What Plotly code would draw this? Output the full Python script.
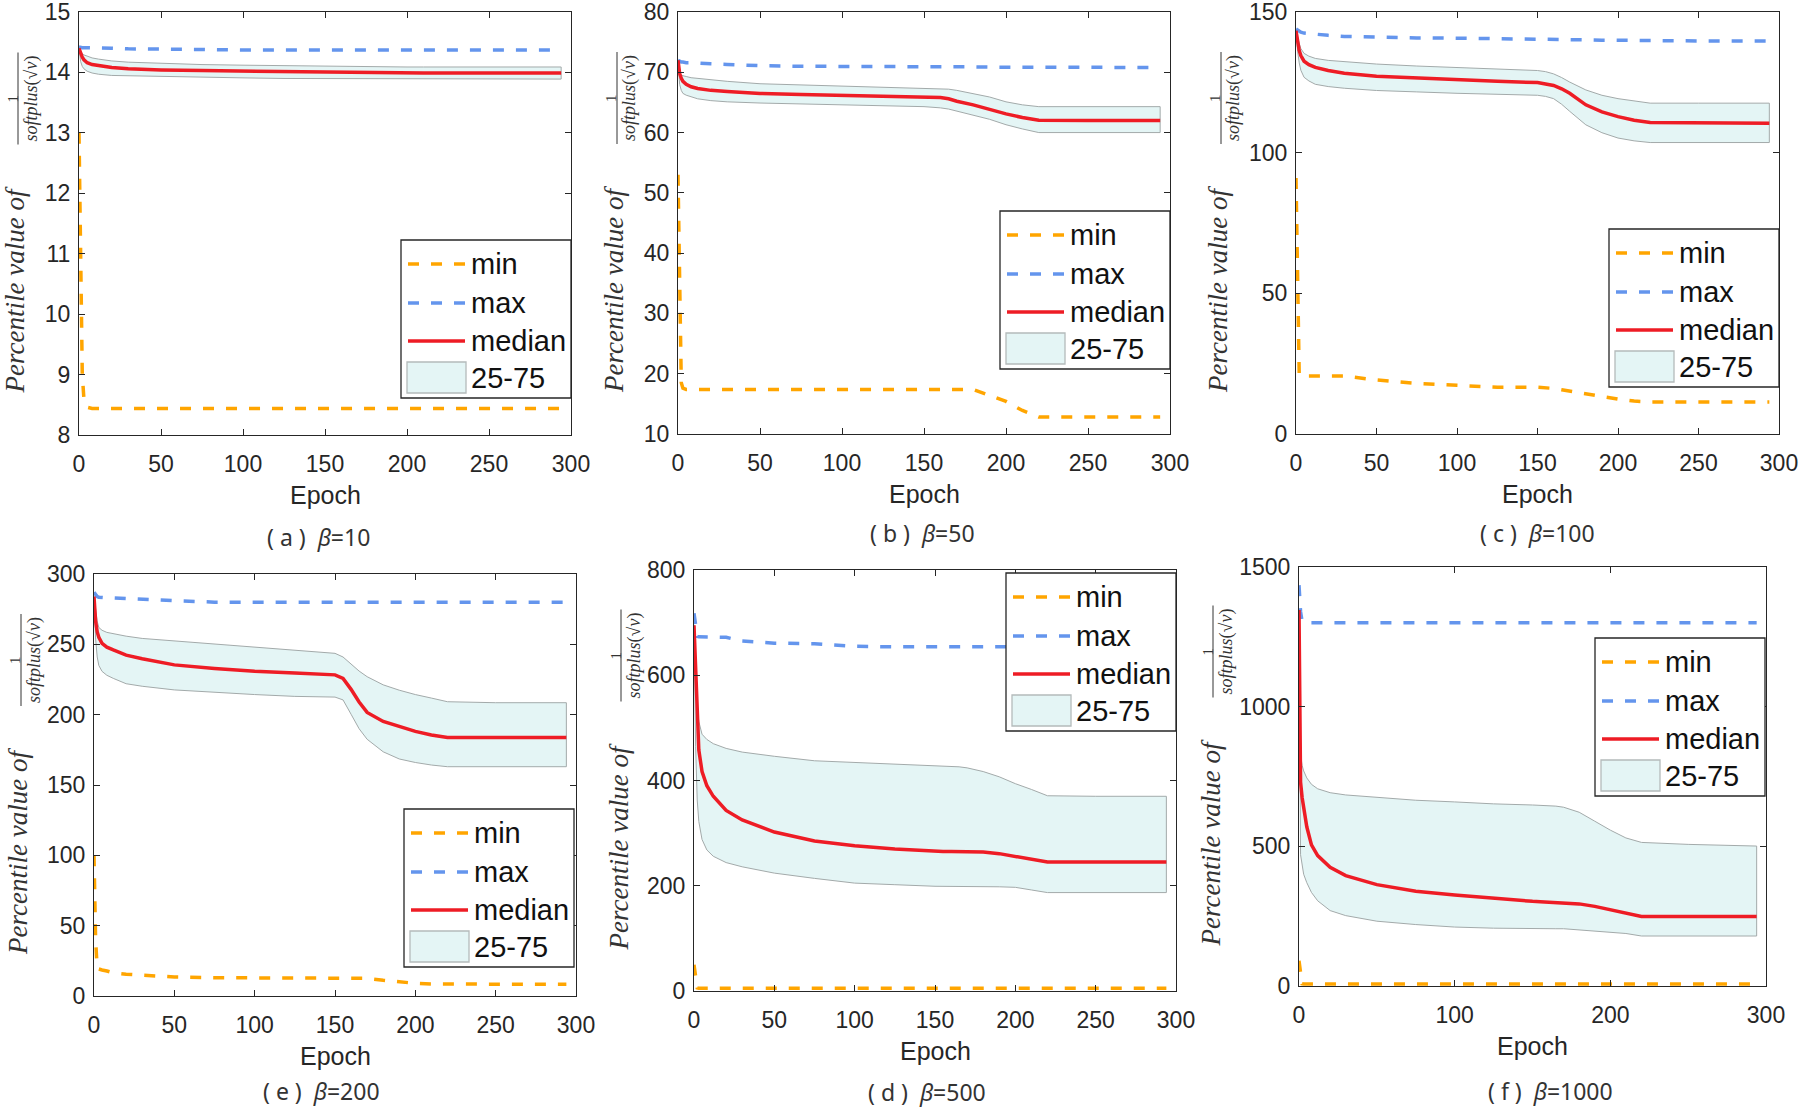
import plotly.graph_objects as go

W, H = 1800, 1109

EPOCHS = [0, 1, 2, 3, 5, 8, 12, 20, 30, 50, 75, 100, 125, 150, 155, 160, 165, 170, 180, 190, 200, 210, 220, 250, 294]

# (a) beta = 10
A_MIN = [13.0, 10.3, 9.0, 8.6, 8.46, 8.44, 8.44, 8.44, 8.44, 8.44, 8.44, 8.44, 8.44, 8.44, 8.44, 8.44, 8.44,
         8.44, 8.44, 8.44, 8.44, 8.44, 8.44, 8.44, 8.44]
A_MAX = [14.42, 14.41, 14.41, 14.41, 14.41, 14.40, 14.40, 14.40, 14.39, 14.38, 14.38, 14.37, 14.37, 14.37, 14.37,
         14.37, 14.37, 14.37, 14.37, 14.37, 14.37, 14.37, 14.37, 14.37, 14.37]
A_MED = [14.40, 14.30, 14.25, 14.21, 14.16, 14.13, 14.11, 14.08, 14.06, 14.04, 14.03, 14.02, 14.01, 14.00, 14.00,
         14.00, 14.00, 14.00, 13.99, 13.99, 13.99, 13.99, 13.99, 13.99, 13.99]
A_Q75 = [14.40, 14.34, 14.31, 14.29, 14.27, 14.24, 14.22, 14.19, 14.17, 14.15, 14.13, 14.12, 14.11, 14.10, 14.10,
         14.10, 14.10, 14.09, 14.09, 14.09, 14.09, 14.09, 14.09, 14.09, 14.09]
A_Q25 = [14.40, 14.18, 14.10, 14.06, 14.02, 13.99, 13.97, 13.95, 13.94, 13.93, 13.92, 13.91, 13.90, 13.90, 13.90,
         13.90, 13.90, 13.89, 13.89, 13.89, 13.89, 13.89, 13.89, 13.89, 13.89]

# (b) beta = 50
B_MIN = [53.0, 30.0, 18.5, 17.6, 17.4, 17.4, 17.4, 17.4, 17.4, 17.4, 17.4, 17.4, 17.4, 17.4, 17.4, 17.4, 17.4,
         17.4, 17.4, 16.4, 15.4, 13.9, 12.8, 12.8, 12.8]
B_MAX = [72.0, 71.8, 71.7, 71.7, 71.6, 71.6, 71.5, 71.4, 71.3, 71.1, 71.0, 71.0, 70.95, 70.9, 70.9, 70.9, 70.9,
         70.9, 70.9, 70.85, 70.85, 70.8, 70.8, 70.8, 70.8]
B_MED = [72.0, 69.8, 69.0, 68.5, 68.0, 67.6, 67.3, 67.0, 66.8, 66.5, 66.3, 66.15, 66.0, 65.9, 65.85, 65.8, 65.6,
         65.2, 64.6, 63.8, 63.1, 62.5, 62.05, 62.0, 62.0]
B_Q75 = [72.0, 69.7, 69.5, 69.4, 69.3, 69.1, 69.0, 68.7, 68.5, 68.1, 67.9, 67.7, 67.55, 67.4, 67.35, 67.3, 67.2,
         67.0, 66.5, 65.9, 65.1, 64.6, 64.3, 64.3, 64.3]
B_Q25 = [72.0, 68.0, 67.0, 66.5, 66.2, 65.9, 65.6, 65.3, 65.1, 64.9, 64.7, 64.6, 64.45, 64.3, 64.2, 64.1, 63.9,
         63.6, 62.9, 62.2, 61.3, 60.6, 60.0, 60.0, 60.0]

# (c) beta = 100
C_MIN = [91.0, 45.0, 21.0, 20.6, 20.6, 20.6, 20.6, 20.6, 20.6, 19.2, 18.0, 17.3, 16.6, 16.6, 16.5, 16.2, 15.7,
         15.2, 14.3, 13.3, 12.4, 11.7, 11.4, 11.4, 11.4]
C_MAX = [144.0, 143.5, 143.0, 142.8, 142.5, 142.3, 142.0, 141.7, 141.3, 141.0, 140.8, 140.7, 140.6, 140.4, 140.4,
         140.3, 140.3, 140.2, 140.1, 140.0, 139.9, 139.8, 139.7, 139.7, 139.7]
C_MED = [143.3, 139.0, 136.3, 134.5, 132.5, 131.3, 130.3, 129.2, 128.2, 127.2, 126.5, 125.9, 125.4, 124.9, 124.5,
         123.9, 122.7, 121.1, 117.0, 114.5, 112.8, 111.5, 110.7, 110.5, 110.5]
C_Q75 = [143.3, 140.5, 138.8, 137.0, 135.3, 134.3, 133.5, 132.8, 132.3, 131.5, 130.8, 130.2, 129.7, 129.2, 128.8,
         128.0, 126.7, 125.1, 122.3, 120.4, 119.2, 118.3, 117.6, 117.6, 117.6]
C_Q25 = [143.3, 136.0, 131.9, 129.3, 126.8, 125.5, 124.3, 123.5, 122.9, 122.1, 121.6, 121.1, 120.7, 120.4, 120.0,
         119.2, 117.2, 114.7, 109.9, 107.1, 105.2, 104.2, 103.6, 103.6, 103.6]

# (e) beta = 200
E_MIN = [100.0, 40.0, 19.5, 19.0, 18.5, 17.8, 16.5, 15.5, 14.7, 13.5, 13.0, 13.0, 13.0, 13.0, 13.0, 13.0, 13.0,
         12.6, 11.2, 9.8, 9.0, 8.6, 8.4, 8.4, 8.4]
E_MAX = [287.0, 285.0, 284.0, 283.5, 283.2, 283.0, 283.0, 282.5, 282.0, 281.0, 280.0, 280.0, 280.0, 280.0, 280.0,
         280.0, 280.0, 280.0, 280.0, 280.0, 280.0, 280.0, 280.0, 280.0, 280.0]
E_MED = [284.0, 266.4, 258.8, 255.0, 250.7, 248.0, 246.0, 242.3, 239.7, 235.4, 232.9, 230.8, 229.6, 228.3, 225.8,
         218.0, 209.0, 201.6, 195.2, 191.4, 188.1, 185.6, 183.8, 183.8, 183.8]
E_Q75 = [284.0, 274.0, 266.4, 262.0, 260.0, 258.5, 257.5, 255.8, 254.2, 252.5, 250.0, 248.1, 246.0, 243.6, 241.0,
         236.0, 231.0, 227.0, 221.2, 217.4, 214.3, 211.8, 209.2, 208.5, 208.5]
E_Q25 = [284.0, 253.7, 241.0, 235.0, 230.8, 228.0, 225.8, 222.0, 220.2, 217.6, 216.1, 214.3, 213.0, 212.5, 210.5,
         200.3, 190.0, 182.5, 173.6, 168.5, 166.0, 164.2, 163.0, 163.0, 163.0]

# (d) beta = 500
D_MIN = [50.0, 20.0, 6.0, 5.0, 5.0, 5.0, 5.0, 5.0, 5.0, 5.0, 5.0, 5.0, 5.0, 5.0, 5.0, 5.0, 5.0, 5.0, 5.0, 5.0,
         5.0, 5.0, 5.0, 5.0, 5.0]
D_MAX = [718.0, 690.0, 674.0, 673.0, 673.0, 673.0, 673.0, 672.0, 665.0, 661.0, 660.0, 655.0, 654.0, 654.0, 654.0,
         654.0, 654.0, 654.0, 654.0, 654.0, 654.0, 654.0, 654.0, 654.0, 654.0]
D_MED = [695.0, 600.0, 512.0, 458.0, 417.0, 390.0, 370.0, 343.0, 325.0, 302.0, 285.0, 276.0, 270.0, 265.0, 265.0,
         265.0, 265.0, 265.0, 264.0, 261.0, 256.0, 250.5, 245.0, 245.0, 245.0]
D_Q75 = [695.0, 580.0, 539.0, 512.0, 488.0, 478.0, 470.0, 461.0, 454.0, 446.0, 437.5, 434.0, 431.0, 427.0, 427.0,
         427.0, 426.0, 424.0, 417.0, 407.0, 394.0, 383.0, 371.0, 370.0, 370.0]
D_Q25 = [695.0, 465.0, 363.0, 322.0, 288.0, 268.0, 256.0, 244.0, 236.0, 224.0, 214.0, 205.0, 202.0, 199.0, 199.0,
         199.0, 198.5, 198.4, 198.4, 198.0, 197.0, 192.0, 187.0, 187.0, 187.0]

# (f) beta = 1000
F_MIN = [90.0, 40.0, 8.0, 7.0, 7.0, 7.0, 7.0, 7.0, 7.0, 7.0, 7.0, 7.0, 7.0, 7.0, 7.0, 7.0, 7.0, 7.0, 7.0, 7.0,
         7.0, 7.0, 7.0, 7.0, 7.0]
F_MAX = [1435.0, 1340.0, 1305.0, 1303.0, 1300.0, 1300.0, 1300.0, 1300.0, 1300.0, 1300.0, 1300.0, 1300.0, 1300.0,
         1300.0, 1300.0, 1300.0, 1300.0, 1300.0, 1300.0, 1300.0, 1300.0, 1300.0, 1300.0, 1300.0, 1300.0]
F_MED = [1346.0, 730.0, 675.0, 640.0, 570.0, 505.0, 467.0, 425.0, 395.0, 363.0, 339.0, 326.0, 313.0, 303.0, 302.0,
         301.0, 300.0, 299.0, 294.0, 285.0, 272.0, 260.0, 249.0, 249.0, 249.0]
F_Q75 = [1346.0, 830.0, 790.0, 770.0, 745.0, 722.0, 706.0, 692.0, 684.0, 676.0, 665.0, 659.0, 652.0, 648.0, 647.0,
         646.0, 644.0, 640.0, 622.0, 590.0, 558.0, 530.0, 514.0, 507.0, 501.0]
F_Q25 = [1346.0, 470.0, 430.0, 400.0, 370.0, 335.0, 305.0, 270.0, 252.0, 232.0, 220.0, 211.0, 207.0, 205.0, 205.0,
         205.0, 205.0, 205.0, 202.0, 198.0, 192.0, 188.0, 179.0, 179.0, 179.0]

CAPTIONS = ["( a )  <i>β</i>=10", "( b )  <i>β</i>=50", "( c )  <i>β</i>=100",
            "( e )  <i>β</i>=200", "( d )  <i>β</i>=500", "( f )  <i>β</i>=1000"]
Y_RANGES = [(8, 15), (10, 80), (0, 150), (0, 300), (0, 800), (0, 1500)]
Y_DTICKS = [1, 10, 50, 50, 200, 500]
X_DTICKS = [50, 50, 50, 50, 50, 100]
LEGEND_LABELS = ["min", "max", "median", "25-75"]

PANELS = [
    (A_MIN, A_MAX, A_MED, A_Q25, A_Q75),
    (B_MIN, B_MAX, B_MED, B_Q25, B_Q75),
    (C_MIN, C_MAX, C_MED, C_Q25, C_Q75),
    (E_MIN, E_MAX, E_MED, E_Q25, E_Q75),
    (D_MIN, D_MAX, D_MED, D_Q25, D_Q75),
    (F_MIN, F_MAX, F_MED, F_Q25, F_Q75),
]

# page layout, in pixels: plot box (left, right, top, bottom)
BOXES = [(79, 571, 12, 435), (678, 1170, 12, 434), (1296, 1779, 12, 434),
         (94, 576, 574, 996), (694, 1176, 570, 991), (1299, 1766, 567, 986)]
LEGEND_POS = [(401, 240), (1000, 211), (1609, 229), (404, 809), (1006, 573), (1595, 638)]
YLABEL_X = [15, 614, 1218, 18, 618, 1210]
CAPTION_POS = [(318, 537), (922, 533), (1537, 533), (321, 1091), (927, 1092), (1550, 1091)]

ORANGE = "#FFA500"
BLUE = "#6495ED"
RED = "#EE1C25"
BAND_FILL = "#E4F5F5"
BAND_EDGE = "#A3AAAA"
AX = "#262626"
DASH = "11px,12px"
SANS = "Liberation Sans"
SERIF = "Liberation Serif"


def px(x):
    return x / W


def py(y):
    return 1 - y / H


def note(x, y, text, xanchor="center", **kw):
    return dict(x=px(x), y=py(y), xref="paper", yref="paper", text=text, showarrow=False,
                xanchor=xanchor, yanchor="middle", **kw)


fig = go.Figure()
shapes = []
annotations = []

for i, (s_min, s_max, s_med, s_q25, s_q75) in enumerate(PANELS):
    sfx = "" if i == 0 else str(i + 1)
    xa, ya = "x" + sfx, "y" + sfx

    fig.add_trace(go.Scatter(x=EPOCHS + EPOCHS[::-1], y=s_q75 + s_q25[::-1], fill="toself",
                             fillcolor=BAND_FILL, line=dict(color=BAND_EDGE, width=1), mode="lines",
                             hoverinfo="skip", showlegend=False, xaxis=xa, yaxis=ya))
    fig.add_trace(go.Scatter(x=EPOCHS, y=s_min, mode="lines", line=dict(color=ORANGE, width=3.5, dash=DASH),
                             showlegend=False, xaxis=xa, yaxis=ya))
    fig.add_trace(go.Scatter(x=EPOCHS, y=s_max, mode="lines", line=dict(color=BLUE, width=3.5, dash=DASH),
                             showlegend=False, xaxis=xa, yaxis=ya))
    fig.add_trace(go.Scatter(x=EPOCHS, y=s_med, mode="lines", line=dict(color=RED, width=3.5),
                             showlegend=False, xaxis=xa, yaxis=ya))

    x0, x1, y0, y1 = BOXES[i]
    common = dict(ticks="inside", ticklen=6, tickwidth=1, tickcolor=AX, showline=True, linecolor=AX,
                  linewidth=1, mirror="ticks", showgrid=False, zeroline=False, automargin=False,
                  ticklabeloverflow="allow", tickfont=dict(family=SANS, size=23, color=AX))
    fig.update_layout(**{
        "xaxis" + sfx: dict(domain=[px(x0), px(x1)], anchor=ya, range=[0, 300], tick0=0, dtick=X_DTICKS[i],
                            ticklabelstandoff=8, **common),
        "yaxis" + sfx: dict(domain=[py(y1), py(y0)], anchor=xa, range=list(Y_RANGES[i]), tick0=0,
                            dtick=Y_DTICKS[i], ticklabelstandoff=3, **common),
    })

    cx = (x0 + x1) / 2
    cy = (y0 + y1) / 2
    annotations.append(note(cx, y1 + 60, "Epoch", font=dict(family=SANS, size=25, color=AX)))

    # y axis title: "Percentile value of" + fraction 1 / softplus(sqrt v)
    lx = YLABEL_X[i]
    annotations.append(note(lx, cy + 67, "<i>Percentile value of</i>", textangle=-90,
                            font=dict(family=SERIF, size=27, color="#333333")))
    annotations.append(note(lx - 3, cy - 125, "1", textangle=-90,
                            font=dict(family=SERIF, size=15, color="#333333")))
    annotations.append(note(lx + 16, cy - 125, "<i>softplus</i>(√<i>v</i>)", textangle=-90,
                            font=dict(family=SERIF, size=18, color="#333333")))
    shapes.append(dict(type="line", xref="paper", yref="paper", x0=px(lx + 3), x1=px(lx + 3),
                       y0=py(cy - 125 - 46), y1=py(cy - 125 + 46), line=dict(color="#333333", width=1)))

    ccx, ccy = CAPTION_POS[i]
    annotations.append(note(ccx, ccy, CAPTIONS[i], font=dict(family="Noto Sans", size=23, color="#333333")))

    # legend box
    gx, gy = LEGEND_POS[i]
    shapes.append(dict(type="rect", xref="paper", yref="paper", x0=px(gx), x1=px(gx + 170),
                       y0=py(gy + 158), y1=py(gy), fillcolor="white", line=dict(color=AX, width=1.3)))
    rows = [24, 63, 101, 138]
    for color, row in ((ORANGE, rows[0]), (BLUE, rows[1])):
        shapes.append(dict(type="line", xref="paper", yref="paper", x0=px(gx + 7), x1=px(gx + 64),
                           y0=py(gy + row), y1=py(gy + row), line=dict(color=color, width=3.5, dash=DASH)))
    shapes.append(dict(type="line", xref="paper", yref="paper", x0=px(gx + 7), x1=px(gx + 64),
                       y0=py(gy + rows[2]), y1=py(gy + rows[2]), line=dict(color=RED, width=3.5)))
    shapes.append(dict(type="rect", xref="paper", yref="paper", x0=px(gx + 6), x1=px(gx + 65),
                       y0=py(gy + 153), y1=py(gy + 122), fillcolor=BAND_FILL,
                       line=dict(color="#B4BABA", width=1.3)))
    for label, row in zip(LEGEND_LABELS, rows):
        annotations.append(note(gx + 68, gy + row, label, xanchor="left",
                                font=dict(family=SANS, size=29, color="#111111")))

fig.update_layout(width=W, height=H, margin=dict(l=0, r=0, t=0, b=0), paper_bgcolor="white",
                  plot_bgcolor="white", showlegend=False, shapes=shapes, annotations=annotations)

# drop the browser's default 8px body margin so the figure fills the window exactly
fig.write_html("out.html", config={"displayModeBar": False},
               post_script="document.body.style.margin = '0px';")
